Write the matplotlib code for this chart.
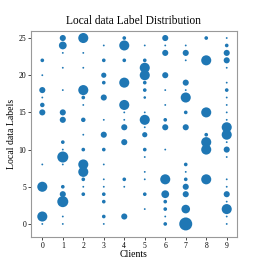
import matplotlib
matplotlib.use('Agg')
import matplotlib.pyplot as plt

# per client: label -> rough sample count
client0 = {22: 4, 20: 1, 18: 11, 17: 1, 16: 6, 15: 11, 8: 1, 5: 30, 1: 30, 0: 1}
client1 = {25: 11, 24: 18, 23: 1, 21: 1, 18: 1, 15: 11, 14: 11, 11: 4, 10: 1,
           9: 36, 8: 1, 5: 4, 4: 11, 3: 36, 1: 1, 0: 1}
client2 = {25: 30, 23: 1, 21: 1, 18: 30, 17: 4, 16: 1, 14: 6, 12: 1, 10: 4,
           8: 30, 7: 30, 6: 4, 5: 1, 4: 4}
client3 = {24: 1, 22: 4, 20: 8, 19: 4, 17: 11, 14: 1, 12: 11, 10: 4, 8: 1,
           6: 1, 5: 1, 4: 4, 3: 4, 1: 4, 0: 1}
client4 = {25: 4, 24: 30, 22: 4, 19: 30, 16: 30, 15: 1, 14: 1, 13: 11, 11: 11,
           6: 4, 5: 1, 1: 11}
client5 = {24: 1, 22: 4, 21: 30, 20: 30, 19: 4, 18: 4, 17: 2, 15: 1,
           14: 30, 13: 1, 12: 8, 10: 4, 9: 1, 7: 1, 6: 1, 4: 4, 2: 1}
client6 = {25: 11, 24: 1, 23: 11, 20: 11, 18: 1, 16: 1, 14: 4, 13: 11, 10: 1,
           6: 30, 4: 18, 3: 4, 2: 4, 1: 1, 0: 4}
client7 = {24: 1, 23: 11, 22: 1, 19: 11, 18: 1, 17: 30, 15: 4, 13: 11, 8: 4,
           7: 1, 6: 4, 5: 11, 4: 11, 2: 22, 0: 50}
client8 = {25: 4, 22: 30, 15: 30, 12: 4, 11: 30, 10: 30, 6: 30}
client9 = {25: 1, 24: 4, 23: 11, 22: 11, 21: 1, 19: 1, 18: 4, 17: 1, 16: 1,
           15: 1, 14: 1, 13: 30, 12: 30, 11: 1, 10: 11, 9: 1, 6: 1, 5: 1,
           4: 11, 3: 1, 2: 30, 1: 1, 0: 1}

clients = [client0, client1, client2, client3, client4,
           client5, client6, client7, client8, client9]

xs, ys, counts = [], [], []
for cid, d in enumerate(clients):
    for lab, n in d.items():
        xs.append(cid)
        ys.append(lab)
        counts.append(n)

plt.rcParams['font.family'] = ['Liberation Serif', 'DejaVu Serif']

fig = plt.figure(figsize=(2.63, 2.63), dpi=100)
ax = fig.add_axes([0.118, 0.099, 0.783, 0.783])
ax.scatter(xs, ys, s=[c * 1.75 for c in counts], color='#1f77b4', linewidths=0)

ax.set_xlim(-0.55, 9.5)
ax.set_ylim(-1.75, 25.94)
ax.set_xticks(range(10))
ax.set_yticks([0, 5, 10, 15, 20, 25])
ax.tick_params(labelsize=5.5, length=2, width=0.5, pad=1.5)
for sp in ax.spines.values():
    sp.set_color('#999999')
    sp.set_linewidth(0.8)

ax.set_title('Local data Label Distribution', fontsize=8.3, pad=5)
ax.set_xlabel('Clients', fontsize=7, labelpad=0)
ax.set_ylabel('Local data Labels', fontsize=7, labelpad=2)

fig.savefig('out.png', dpi=100)
